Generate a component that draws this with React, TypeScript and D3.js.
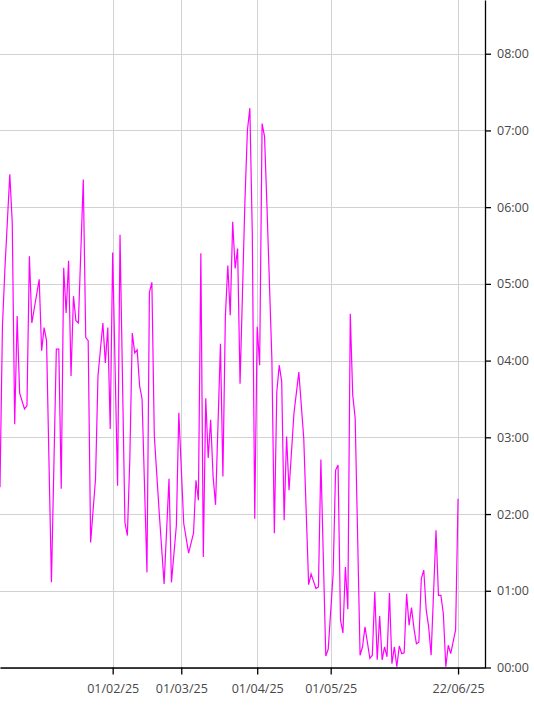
import React, { useEffect, useRef } from 'react';
import * as d3 from 'd3';

// daily values, hours
const dates = [
  '2024-12-17', '2024-12-18', '2024-12-19', '2024-12-21', '2024-12-22', '2024-12-23', '2024-12-24', '2024-12-25',
  '2024-12-27', '2024-12-28', '2024-12-29', '2024-12-30',
  '2025-01-02', '2025-01-03', '2025-01-04', '2025-01-05', '2025-01-07', '2025-01-09', '2025-01-10', '2025-01-11',
  '2025-01-12', '2025-01-13', '2025-01-14', '2025-01-15', '2025-01-16', '2025-01-17', '2025-01-18', '2025-01-20',
  '2025-01-21', '2025-01-22', '2025-01-23', '2025-01-25', '2025-01-26', '2025-01-28', '2025-01-29', '2025-01-30',
  '2025-01-31',
  '2025-02-01', '2025-02-03', '2025-02-04', '2025-02-06', '2025-02-07', '2025-02-08', '2025-02-09', '2025-02-10',
  '2025-02-11', '2025-02-12', '2025-02-13', '2025-02-15', '2025-02-16', '2025-02-17', '2025-02-18', '2025-02-20',
  '2025-02-22', '2025-02-24', '2025-02-25', '2025-02-27', '2025-02-28',
  '2025-03-02', '2025-03-04', '2025-03-06', '2025-03-07', '2025-03-08', '2025-03-09', '2025-03-10', '2025-03-11',
  '2025-03-12', '2025-03-13', '2025-03-14', '2025-03-15', '2025-03-17', '2025-03-18', '2025-03-19', '2025-03-20',
  '2025-03-21', '2025-03-22', '2025-03-23', '2025-03-24', '2025-03-25', '2025-03-27', '2025-03-28', '2025-03-29',
  '2025-03-30', '2025-03-31',
  '2025-04-01', '2025-04-02', '2025-04-03', '2025-04-04', '2025-04-05', '2025-04-07', '2025-04-08', '2025-04-09',
  '2025-04-10', '2025-04-11', '2025-04-12', '2025-04-13', '2025-04-14', '2025-04-16', '2025-04-18', '2025-04-20',
  '2025-04-22', '2025-04-23', '2025-04-25', '2025-04-26', '2025-04-27', '2025-04-29', '2025-04-30',
  '2025-05-02', '2025-05-03', '2025-05-04', '2025-05-05', '2025-05-06', '2025-05-07', '2025-05-08', '2025-05-09',
  '2025-05-10', '2025-05-11', '2025-05-13', '2025-05-14', '2025-05-15', '2025-05-17', '2025-05-18', '2025-05-19',
  '2025-05-20', '2025-05-21', '2025-05-22', '2025-05-23', '2025-05-24', '2025-05-25', '2025-05-26', '2025-05-27',
  '2025-05-28', '2025-05-29', '2025-05-30', '2025-05-31',
  '2025-06-01', '2025-06-02', '2025-06-03', '2025-06-04', '2025-06-05', '2025-06-06', '2025-06-07', '2025-06-08',
  '2025-06-09', '2025-06-10', '2025-06-11', '2025-06-13', '2025-06-14', '2025-06-15', '2025-06-16', '2025-06-17',
  '2025-06-18', '2025-06-19', '2025-06-21', '2025-06-22',
];

const hours = [
  2.35, 4.45, 5.19, 6.43, 5.80, 3.17, 4.58, 3.58,
  3.37, 3.41, 5.36, 4.49,
  5.06, 4.13, 4.43, 4.26, 1.11, 4.15, 4.15, 2.33,
  5.21, 4.62, 5.30, 3.80, 4.84, 4.52, 4.49, 6.36,
  4.30, 4.26, 1.63, 2.46, 3.80, 4.49, 3.97, 4.43,
  3.11,
  5.41, 2.37, 5.64, 1.89, 1.72, 2.72, 4.36, 4.10,
  4.14, 3.67, 3.50, 1.24, 4.89, 5.02, 3.02, 2.02,
  1.09, 2.46, 1.11, 1.85, 3.32,
  1.88, 1.49, 1.75, 2.44, 2.18, 5.40, 1.44, 3.51,
  2.73, 3.23, 2.49, 2.12, 4.22, 2.49, 4.57, 5.24,
  4.59, 5.81, 5.20, 5.46, 3.70, 6.09, 7.00, 7.29,
  5.66, 1.94,
  4.44, 3.94, 7.09, 6.92, 6.00, 4.01, 1.75, 3.59,
  3.94, 3.73, 1.92, 3.01, 2.31, 3.31, 3.85, 2.99,
  1.08, 1.22, 1.03, 1.05, 2.71, 0.15, 0.24,
  1.22, 2.57, 2.64, 0.62, 0.45, 1.31, 0.76, 4.61,
  3.55, 3.25, 0.16, 0.27, 0.53, 0.12, 0.16, 0.99,
  0.10, 0.67, 0.10, 0.27, 0.14, 0.97, 0.05, 0.27,
  0.01, 0.28, 0.18, 0.19,
  0.96, 0.55, 0.78, 0.51, 0.31, 0.33, 1.16, 1.27,
  0.75, 0.53, 0.16, 1.79, 0.94, 0.94, 0.70, 0.01,
  0.29, 0.18, 0.49, 2.20,
];

const xDomain = ['2024-12-17', '2025-07-03'];
const xTicks = ['2025-02-01', '2025-03-01', '2025-04-01', '2025-05-01', '2025-06-22'];
const yTicks = [0, 1, 2, 3, 4, 5, 6, 7, 8];
const yMax = 8.7;

const W = 534;
const H = 715;
const plotRight = 485;
const plotBottom = 667.5;
const FONT = '"Open Sans", sans-serif';

const App: React.FC = () => {
  const svgRef = useRef<SVGSVGElement>(null);

  useEffect(() => {
    if (!svgRef.current) return;
    const svg = d3.select(svgRef.current);
    svg.selectAll('*').remove();

    const parse = d3.utcParse('%Y-%m-%d');
    const data = dates.map((d, i) => ({ date: parse(d)!, value: hours[i] }));

    const x = d3.scaleUtc()
      .domain(xDomain.map(d => parse(d)!))
      .range([0, plotRight]);
    const y = d3.scaleLinear().domain([0, yMax]).range([plotBottom, 0]);

    svg.append('defs').append('clipPath').attr('id', 'plot-clip')
      .append('rect').attr('x', 0).attr('y', 0).attr('width', plotRight).attr('height', plotBottom);

    // grid
    const grid = svg.append('g').attr('stroke', '#d2d2d2').attr('stroke-width', 1);
    yTicks.forEach(t => {
      grid.append('line')
        .attr('x1', 0).attr('x2', plotRight)
        .attr('y1', Math.round(y(t)) + 0.5).attr('y2', Math.round(y(t)) + 0.5);
    });
    xTicks.forEach(t => {
      const xv = Math.round(x(parse(t)!)) + 0.5;
      grid.append('line')
        .attr('x1', xv).attr('x2', xv)
        .attr('y1', 0).attr('y2', plotBottom);
    });

    // series
    const line = d3.line<{ date: Date; value: number }>()
      .x(d => x(d.date))
      .y(d => y(d.value));

    svg.append('path')
      .datum(data)
      .attr('clip-path', 'url(#plot-clip)')
      .attr('fill', 'none')
      .attr('stroke', '#ff00ff')
      .attr('stroke-width', 1.2)
      .attr('stroke-linejoin', 'miter')
      .attr('d', line);

    // axes
    const fmtDate = d3.utcFormat('%d/%m/%y');
    const xAxis = d3.axisBottom(x)
      .tickValues(xTicks.map(d => parse(d)!))
      .tickFormat(d => fmtDate(d as Date))
      .tickSizeInner(7)
      .tickSizeOuter(0)
      .tickPadding(10);

    const yAxis = d3.axisRight(y)
      .tickValues(yTicks)
      .tickFormat(d => `${String(d).padStart(2, '0')}:00`)
      .tickSizeInner(6)
      .tickSizeOuter(0)
      .tickPadding(6);

    const gx = svg.append('g')
      .attr('transform', `translate(0, ${plotBottom})`)
      .call(xAxis);
    const gy = svg.append('g')
      .attr('transform', `translate(${plotRight}, 0)`)
      .call(yAxis);

    [gx, gy].forEach(g => {
      g.select('.domain').attr('stroke', '#000').attr('stroke-width', 1.3);
      g.selectAll('.tick line').attr('stroke', '#000').attr('stroke-width', 1.3);
      g.selectAll('.tick text')
        .attr('fill', '#484848')
        .style('font-family', FONT)
        .style('font-size', '12.5px');
    });
  }, []);

  return (
    <div style={{ position: 'absolute', left: 0, top: 0, width: W, height: H, background: '#fff' }}>
      <svg ref={svgRef} width={W} height={H} viewBox={`0 0 ${W} ${H}`} />
    </div>
  );
};

export default App;
